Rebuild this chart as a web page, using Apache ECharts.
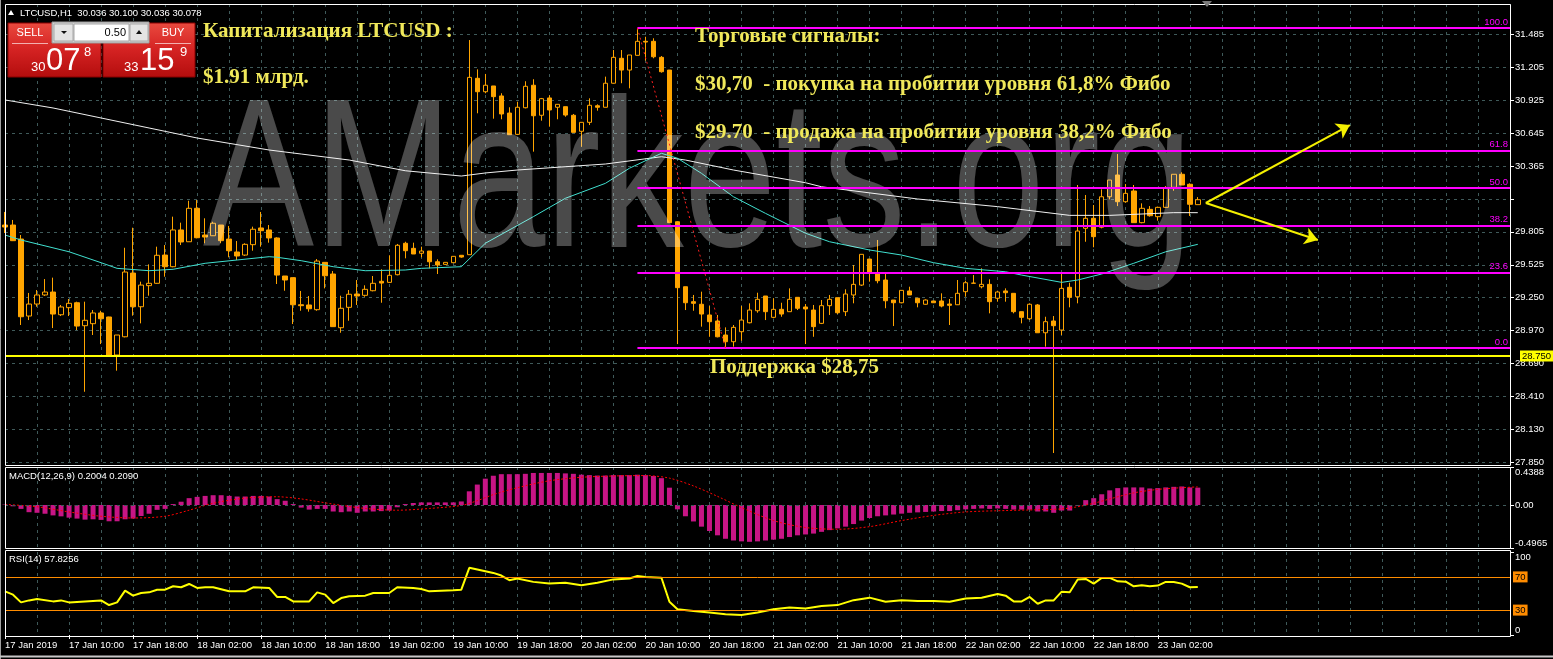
<!DOCTYPE html>
<html><head><meta charset="utf-8">
<script src="https://cdn.jsdelivr.net/npm/echarts@6/dist/echarts.min.js"></script>
<style>html,body{margin:0;padding:0;background:#000;overflow:hidden}#c{width:1553px;height:659px}</style>
</head><body><div id="c"></div>
<script>
// ---------- DATA ----------
const timeLabels = ['17 Jan 2019','17 Jan 10:00','17 Jan 18:00','18 Jan 02:00','18 Jan 10:00','18 Jan 18:00','19 Jan 02:00','19 Jan 10:00','19 Jan 18:00','20 Jan 02:00','20 Jan 10:00','20 Jan 18:00','21 Jan 02:00','21 Jan 10:00','21 Jan 18:00','22 Jan 02:00','22 Jan 10:00','22 Jan 18:00','23 Jan 02:00'];
const priceTicks = [31.485,31.205,30.925,30.645,30.365,30.085,29.805,29.525,29.250,28.970,28.690,28.410,28.130,27.850];
const macdTicks = [-0.4965,0,0.4388];
const rsiTicks = [0,100];
const rsiLevels = [70,30];

const openP = [29.863,29.863,29.744,29.090,29.192,29.269,29.294,29.101,29.161,29.203,
29.008,29.025,29.116,29.082,28.759,28.914,29.455,29.169,29.348,29.368,
29.608,29.509,29.821,29.721,30.005,29.778,29.772,29.863,29.744,29.634,
29.608,29.696,29.838,29.821,29.753,29.430,29.416,29.186,29.184,29.144,
29.546,29.447,28.991,29.164,29.277,29.266,29.305,29.385,29.376,29.441,
29.708,29.665,29.623,29.642,29.551,29.529,29.543,29.606,29.611,31.109,
30.995,31.044,30.959,30.814,30.633,30.859,31.050,30.795,30.942,30.863,
30.868,30.795,30.659,30.735,30.876,30.863,31.067,31.279,31.179,31.304,
31.423,31.423,31.287,31.179,29.891,29.339,29.212,29.190,29.099,29.048,
28.929,28.872,28.957,29.033,29.135,29.260,29.079,29.147,29.127,29.249,
29.167,29.141,29.028,29.178,29.246,29.127,29.269,29.353,29.574,29.447,
29.396,29.226,29.203,29.303,29.241,29.190,29.218,29.218,29.192,29.186,
29.297,29.368,29.339,29.359,29.241,29.303,29.283,29.127,29.067,29.184,
28.948,29.048,28.971,29.334,29.254,29.835,29.920,29.844,30.103,30.288,
30.061,30.152,29.883,29.996,29.934,30.013,30.183,30.294,30.209,30.036];
const closeP = [29.846,29.730,29.084,29.192,29.269,29.294,29.107,29.167,29.198,29.005,
29.054,29.116,29.067,28.759,28.929,29.464,29.169,29.353,29.368,29.606,
29.509,29.821,29.719,30.005,29.755,29.761,29.878,29.730,29.645,29.600,
29.699,29.827,29.815,29.753,29.438,29.396,29.186,29.178,29.152,29.557,
29.432,29.000,29.156,29.275,29.260,29.317,29.368,29.370,29.436,29.691,
29.645,29.617,29.642,29.551,29.523,29.546,29.597,29.591,31.117,30.995,
31.050,30.953,30.806,30.630,30.863,31.041,30.791,30.936,30.840,30.888,
30.797,30.650,30.735,30.880,30.863,31.067,31.287,31.179,31.307,31.423,
31.417,31.292,31.165,29.883,29.331,29.203,29.198,29.107,29.042,28.914,
28.872,28.994,29.056,29.141,29.232,29.127,29.147,29.107,29.232,29.156,
29.150,29.000,29.178,29.232,29.118,29.277,29.359,29.614,29.461,29.390,
29.220,29.203,29.308,29.269,29.203,29.226,29.203,29.175,29.181,29.283,
29.373,29.370,29.359,29.212,29.294,29.288,29.127,29.079,29.190,28.948,
29.042,29.008,29.325,29.249,29.812,29.920,29.764,30.103,30.245,30.061,
30.132,29.883,30.005,29.942,30.013,30.175,30.294,30.203,30.039,30.078];
const lowP = [29.795,29.727,29.014,29.056,29.169,29.260,28.988,29.090,29.090,28.971,
28.447,28.929,28.852,28.751,28.626,28.909,29.093,29.028,29.263,29.365,
29.424,29.504,29.693,29.721,29.750,29.708,29.770,29.708,29.589,29.566,
29.600,29.645,29.679,29.713,29.362,29.305,29.022,29.135,29.127,29.135,
29.325,29.000,28.948,29.050,29.184,29.254,29.300,29.203,29.373,29.436,
29.580,29.617,29.589,29.495,29.447,29.523,29.543,29.585,29.611,30.812,
30.982,30.766,30.761,30.630,30.627,30.854,30.486,30.749,30.698,30.761,
30.783,30.650,30.528,30.712,30.834,30.863,31.067,31.067,31.024,31.304,
31.259,31.279,31.157,29.883,28.852,29.141,29.135,29.000,28.914,28.909,
28.818,28.830,28.880,29.028,29.118,29.056,29.071,29.084,29.127,29.141,
28.852,28.914,29.022,29.099,29.107,29.090,29.198,29.345,29.382,29.368,
29.156,29.005,29.198,29.269,29.164,29.186,29.201,29.164,29.014,29.184,
29.254,29.368,29.325,29.113,29.212,29.212,29.113,29.028,29.056,28.948,
28.830,27.927,28.929,29.164,29.198,29.721,29.674,29.835,30.081,30.024,
30.053,29.883,29.878,29.934,29.900,30.010,30.154,30.203,29.940,30.036];
const highP = [29.974,29.906,29.778,29.286,29.311,29.404,29.416,29.184,29.235,29.212,
29.212,29.141,29.135,29.084,28.929,29.670,29.840,29.382,29.529,29.679,
29.693,29.934,29.883,30.069,30.075,29.920,29.891,29.863,29.855,29.727,
29.708,29.849,29.974,29.863,29.759,29.430,29.416,29.303,29.260,29.574,
29.546,29.472,29.263,29.311,29.396,29.351,29.430,29.487,29.606,29.702,
29.721,29.713,29.679,29.642,29.572,29.546,29.597,29.606,31.434,31.185,
31.146,31.044,30.982,30.863,30.910,31.084,31.101,30.942,30.965,30.888,
30.868,30.806,30.735,30.939,30.888,31.123,31.349,31.349,31.307,31.536,
31.462,31.449,31.298,31.179,29.891,29.339,29.269,29.297,29.175,29.099,
28.994,29.014,29.175,29.198,29.288,29.260,29.241,29.203,29.325,29.249,
29.192,29.184,29.226,29.269,29.246,29.317,29.523,29.614,29.574,29.736,
29.447,29.226,29.308,29.339,29.241,29.232,29.218,29.283,29.235,29.396,
29.390,29.438,29.495,29.402,29.305,29.325,29.283,29.127,29.198,29.192,
29.084,29.090,29.453,29.373,30.203,30.118,30.033,30.166,30.245,30.466,
30.211,30.203,30.047,30.024,30.019,30.194,30.294,30.311,30.217,30.100];

// moving averages read at bar indices [bar, price]
const maSlow = [[0,30.925],[6,30.857],[12,30.772],[18,30.687],[24,30.602],[33,30.500],[37,30.466],[43,30.415],[50,30.324],[57,30.279],[60,30.305],[64,30.330],[70,30.358],[75,30.381],[82,30.443],[85,30.415],[91,30.330],[100,30.222],[102,30.188],[114,30.084],[124,30.019],[133,29.945],[138,29.945],[146,29.968],[149,29.968]];
const maFast = [[0,29.778],[2,29.736],[8,29.636],[12,29.543],[14,29.495],[18,29.475],[21,29.487],[25,29.538],[29,29.566],[33,29.594],[34,29.589],[37,29.560],[41,29.509],[45,29.475],[50,29.481],[52,29.495],[57,29.509],[60,29.708],[66,29.934],[70,30.090],[75,30.217],[78,30.345],[82,30.472],[84,30.430],[87,30.302],[91,30.103],[95,29.962],[100,29.793],[103,29.721],[108,29.651],[112,29.608],[116,29.543],[120,29.495],[125,29.466],[127,29.438],[132,29.376],[134,29.396],[137,29.447],[141,29.538],[145,29.636],[149,29.699]];

const macdHist = [0.005,-0.015,-0.045,-0.083,-0.09,-0.101,-0.12,-0.131,-0.146,-0.157,
-0.169,-0.165,-0.172,-0.188,-0.188,-0.165,-0.157,-0.127,-0.101,-0.056,
-0.045,0.011,0.038,0.079,0.094,0.105,0.113,0.113,0.105,0.098,
0.098,0.105,0.105,0.098,0.068,0.049,0.011,-0.03,-0.053,-0.045,
-0.045,-0.075,-0.083,-0.075,-0.09,-0.075,-0.075,-0.071,-0.064,-0.026,
0.011,0.023,0.03,0.03,0.03,0.03,0.03,0.041,0.158,0.236,
0.304,0.338,0.356,0.356,0.356,0.36,0.37,0.37,0.37,0.37,
0.365,0.36,0.35,0.345,0.34,0.34,0.345,0.345,0.345,0.35,
0.345,0.335,0.31,0.2,-0.05,-0.13,-0.19,-0.25,-0.3,-0.35,
-0.39,-0.41,-0.42,-0.425,-0.42,-0.41,-0.4,-0.39,-0.37,-0.35,
-0.34,-0.33,-0.31,-0.29,-0.27,-0.25,-0.22,-0.18,-0.15,-0.13,
-0.12,-0.11,-0.1,-0.09,-0.085,-0.08,-0.075,-0.07,-0.07,-0.06,
-0.05,-0.045,-0.04,-0.045,-0.04,-0.045,-0.053,-0.053,-0.053,-0.075,
-0.075,-0.09,-0.064,-0.064,-0.008,0.056,0.079,0.124,0.169,0.195,
0.203,0.203,0.203,0.191,0.195,0.203,0.21,0.214,0.203,0.2004];
const macdSignal = [[0,0.007],[4,-0.02],[8,-0.08],[12,-0.13],[16,-0.15],[20,-0.13],[23,-0.06],[26,0.02],[30,0.08],[34,0.095],[37,0.07],[41,0.01],[45,-0.04],[49,-0.06],[53,-0.04],[57,-0.005],[59,0.05],[61,0.12],[64,0.2],[68,0.28],[72,0.32],[76,0.335],[80,0.34],[83,0.31],[86,0.22],[89,0.1],[92,-0.03],[96,-0.18],[100,-0.26],[104,-0.28],[108,-0.25],[112,-0.18],[116,-0.12],[120,-0.08],[125,-0.064],[129,-0.055],[132,-0.045],[134,-0.02],[136,0.02],[138,0.07],[141,0.14],[144,0.18],[147,0.2],[149,0.209]];
const rsiLine = [[0,52.6],[1,48.6],[2,39.3],[3,41.7],[4,43.3],[6,40.5],[7,41.7],[8,39.3],[10,40.5],[12,41.7],[13,36.1],[14,39.3],[15,53.4],[16,47.4],[17,50.6],[18,51.4],[19,54.6],[20,54.6],[21,58.7],[22,57.5],[23,61.5],[24,56.7],[25,57.5],[26,57.5],[28,52.6],[30,52.6],[31,57.5],[33,56.7],[34,45.8],[35,45.8],[36,40.5],[38,40.5],[39,51.4],[40,48.6],[41,38.5],[42,44.5],[43,46.6],[45,47.4],[46,50.6],[48,50.6],[49,57.5],[51,56.7],[52,55.5],[53,52.6],[56,53.8],[57,54.6],[58,80.9],[59,78.9],[60,76.9],[61,74.8],[62,71.6],[63,66],[64,68],[66,64],[68,62],[70,63],[72,60],[74,63],[76,67],[78,68],[79,71],[80,70],[82,69],[83,40],[84,31],[86,29],[88,27],[90,25],[92,24],[94,27],[96,31],[98,33],[100,32],[102,35],[104,36],[106,42],[108,45],[110,40],[112,42],[114,41],[116,41],[118,40],[120,44],[122,45],[124,49.4],[125,47.4],[126,40.5],[127,40.5],[128,45.8],[129,37.7],[130,41.7],[131,41.7],[132,52.2],[133,51.4],[134,66.8],[135,67.6],[136,61.9],[137,68.8],[138,68.8],[139,64.7],[140,64.3],[141,58.7],[142,59.9],[143,58.7],[144,59.5],[145,63.9],[146,63.9],[147,61.9],[148,57.5],[149,57.8]];

const fibLevels = [100, 61.8, 50, 38.2, 23.6, 0];
const fibHigh = 31.536, fibLow = 28.818, fibStartBar = 79, fibEndBar = 90;
const supportLevel = 28.75, lastPrice = 30.078;
const arrowFrom = [150, 30.05], arrowUp = [168, 30.712], arrowDown = [164, 29.736];

// ---------- CHART ----------
const SLOTS = 189;
const cats = Array.from({length: SLOTS}, (_, i) => String(i));
const candles = openP.map((o, i) => [o, closeP[i], lowP[i], highP[i]]);
const GRIDC = '#3f5a5a';
const FONT = 'Liberation Sans';
const YEL = '#F0E85A';
const ANN = 'bold 21px "Liberation Serif"';

const fibMarks = fibLevels.map(l => {
  const p = fibLow + (fibHigh - fibLow) * l / 100;
  return [{coord: [fibStartBar, p], name: l.toFixed(1)}, {coord: [SLOTS - 1, p]}];
});

function xAxisFor(gi, labels) {
  return {
    type: 'category', gridIndex: gi, data: cats, boundaryGap: false,
    axisLine: {show: false},
    axisTick: {show: labels, length: 4, interval: (i) => i % 8 === 0 && i / 8 < timeLabels.length, lineStyle: {color: '#fff'}},
    axisLabel: {show: labels, interval: (i) => i % 8 === 0 && i / 8 < timeLabels.length,
      formatter: (v, i) => timeLabels[Number(v) / 8] || '', align: 'left', color: '#fff',
      fontFamily: FONT, fontSize: 9.5, margin: 5},
    splitLine: {show: true, interval: (i) => i % 4 === 0 && i > 0, lineStyle: {color: GRIDC, type: [3, 4], width: 1}}
  };
}

const txt = (text, x, y, font, fill, extra) => Object.assign({type: 'text', x: x, y: y, z: 20, silent: true,
  style: {text: text, font: font, fill: fill, align: 'left', verticalAlign: 'middle'}}, extra || {});

const redGrad = {type: 'linear', x: 0, y: 0, x2: 0, y2: 1, colorStops: [{offset: 0, color: '#ea4a3f'}, {offset: 0.5, color: '#d42222'}, {offset: 1, color: '#b30d0d'}]};

const graphics = [
  {type: 'rect', z: 30, silent: true, shape: {x: 5.5, y: 4.5, width: 1505, height: 461}, style: {fill: null, stroke: '#ffffff', lineWidth: 1}},
  {type: 'rect', z: 30, silent: true, shape: {x: 5.5, y: 467.5, width: 1505, height: 81}, style: {fill: null, stroke: '#ffffff', lineWidth: 1}},
  {type: 'rect', z: 30, silent: true, shape: {x: 5.5, y: 550.5, width: 1505, height: 86}, style: {fill: null, stroke: '#ffffff', lineWidth: 1}},
  {type: 'line', z: 30, silent: true, shape: {x1: 0.5, y1: 0, x2: 0.5, y2: 659}, style: {stroke: '#a0a0a0', lineWidth: 1}},
  {type: 'line', z: 30, silent: true, shape: {x1: 0, y1: 656.5, x2: 1553, y2: 656.5}, style: {stroke: '#c8c8c8', lineWidth: 2}},
  {type: 'polygon', z: 30, silent: true, shape: {points: [[1202, 1], [1212, 1], [1207, 7]]}, style: {fill: '#7a7a7a'}},
  {type: 'text', z: 5, silent: true, x: 203, y: 188, scaleX: 0.785, style: {text: 'AMarkets.org', font: '212px "Liberation Sans"', fill: 'rgba(255,255,255,0.29)', align: 'left', verticalAlign: 'middle'}},
  {type: 'polygon', z: 20, silent: true, shape: {points: [[8, 15], [14, 15], [11, 10]]}, style: {fill: '#fff'}},
  txt('LTCUSD,H1  30.036 30.100 30.036 30.078', 20, 13, '9.5px "Liberation Sans"', '#fff'),
  {type: 'rect', z: 20, silent: true, shape: {x: 8, y: 23, width: 93, height: 54}, style: {fill: redGrad, stroke: '#8a0000', lineWidth: 1}},
  {type: 'rect', z: 20, silent: true, shape: {x: 103, y: 23, width: 92, height: 54}, style: {fill: redGrad, stroke: '#8a0000', lineWidth: 1}},
  {type: 'rect', z: 21, silent: true, shape: {x: 52, y: 22, width: 97, height: 21}, style: {fill: '#cfcfcf', stroke: '#9a9a9a', lineWidth: 1}},
  {type: 'rect', z: 22, silent: true, shape: {x: 54, y: 24, width: 19, height: 17}, style: {fill: '#e4e4e4', stroke: '#a8a8a8'}},
  {type: 'rect', z: 22, silent: true, shape: {x: 74, y: 24, width: 55, height: 17}, style: {fill: '#ffffff', stroke: '#a8a8a8'}},
  {type: 'rect', z: 22, silent: true, shape: {x: 130, y: 24, width: 18, height: 17}, style: {fill: '#e4e4e4', stroke: '#a8a8a8'}},
  {type: 'polygon', z: 23, silent: true, shape: {points: [[61, 31], [67, 31], [64, 34]]}, style: {fill: '#111'}},
  {type: 'polygon', z: 23, silent: true, shape: {points: [[136, 34], [142, 34], [139, 30]]}, style: {fill: '#111'}},
  txt('0.50', 126, 33, '', '', {z: 23, style: {text: '0.50', font: '11px "Liberation Sans"', fill: '#000', align: 'right', verticalAlign: 'middle'}}),
  {type: 'line', z: 22, silent: true, shape: {x1: 12, y1: 43.5, x2: 48, y2: 43.5}, style: {stroke: '#f3b0b0', lineWidth: 1}},
  {type: 'line', z: 22, silent: true, shape: {x1: 155, y1: 43.5, x2: 191, y2: 43.5}, style: {stroke: '#f3b0b0', lineWidth: 1}},
  txt('SELL', 30, 33, '', '', {z: 23, style: {text: 'SELL', font: '11px "Liberation Sans"', fill: '#fff', align: 'center', verticalAlign: 'middle'}}),
  txt('BUY', 173, 33, '', '', {z: 23, style: {text: 'BUY', font: '11px "Liberation Sans"', fill: '#fff', align: 'center', verticalAlign: 'middle'}}),
  txt('30', 31, 67, '13px "Liberation Sans"', '#fff', {z: 23}),
  txt('07', 46, 61, '31px "Liberation Sans"', '#fff', {z: 23}),
  txt('8', 84, 52, '13px "Liberation Sans"', '#fff', {z: 23}),
  txt('33', 124, 67, '13px "Liberation Sans"', '#fff', {z: 23}),
  txt('15', 140, 61, '31px "Liberation Sans"', '#fff', {z: 23}),
  txt('9', 180, 52, '13px "Liberation Sans"', '#fff', {z: 23}),
  txt('Капитализация LTCUSD :', 203, 32, ANN, YEL),
  txt('$1.91 млрд.', 203, 78, ANN, YEL),
  txt('Торговые сигналы:', 695, 37, ANN, YEL),
  txt('$30,70  - покупка на пробитии уровня 61,8% Фибо', 695, 85, ANN, YEL),
  txt('$29.70  - продажа на пробитии уровня 38,2% Фибо', 695, 133, ANN, YEL),
  txt('Поддержка $28,75', 710, 368, ANN, YEL),
  txt('MACD(12,26,9) 0.2004 0.2090', 9, 476, '9.5px "Liberation Sans"', '#fff'),
  txt('RSI(14) 57.8256', 9, 559, '9.5px "Liberation Sans"', '#fff')
];

const option = {
  backgroundColor: '#000000',
  animation: false,
  grid: [
    {left: 5, top: 4, width: 1505, height: 461},
    {left: 5, top: 467, width: 1505, height: 81},
    {left: 5, top: 552, width: 1505, height: 83}
  ],
  xAxis: [xAxisFor(0, false), xAxisFor(1, false), xAxisFor(2, true)],
  yAxis: [
    {type: 'value', gridIndex: 0, position: 'right', min: 27.825, max: 31.740,
      axisLine: {show: false},
      axisTick: {show: true, length: 4, customValues: priceTicks, lineStyle: {color: '#fff'}},
      axisLabel: {customValues: priceTicks, color: '#fff', fontFamily: FONT, fontSize: 9.5, margin: 5,
        formatter: (v) => Math.abs(v - 30.085) < 1e-6 ? '' : v.toFixed(3)},
      splitLine: {show: true, lineStyle: {color: GRIDC, type: [3, 4], width: 1}}},
    {type: 'value', gridIndex: 1, position: 'right', min: -0.4965, max: 0.4388,
      axisLine: {show: false},
      axisTick: {show: true, length: 4, customValues: macdTicks, lineStyle: {color: '#fff'}},
      axisLabel: {customValues: macdTicks, color: '#fff', fontFamily: FONT, fontSize: 9.5, margin: 5,
        verticalAlignMaxLabel: 'top', verticalAlignMinLabel: 'bottom',
        formatter: (v) => v === 0 ? '0.00' : String(v)},
      splitLine: {show: false}},
    {type: 'value', gridIndex: 2, position: 'right', min: 0, max: 100,
      axisLine: {show: false},
      axisTick: {show: true, length: 4, customValues: rsiTicks, lineStyle: {color: '#fff'}},
      axisLabel: {customValues: rsiTicks, color: '#fff', fontFamily: FONT, fontSize: 9.5, margin: 5,
        verticalAlignMaxLabel: 'top', verticalAlignMinLabel: 'bottom'},
      splitLine: {show: false}}
  ],
  series: [
    {type: 'candlestick', xAxisIndex: 0, yAxisIndex: 0, data: candles, barWidth: 5, clip: true, z: 2,
      itemStyle: {color: '#000000', color0: '#FFA500', borderColor: '#FFA500', borderColor0: '#FFA500', borderWidth: 1},
      markLine: {silent: true, symbol: ['none', 'none'], animation: false,
        data: [
          ...fibMarks.map(m => [Object.assign({}, m[0], {lineStyle: {color: '#FF00FF', width: 2, type: 'solid'},
            label: {show: true, position: 'insideEndTop', formatter: m[0].name, color: '#FF00FF', fontFamily: FONT, fontSize: 9.5, distance: [2, 1]}}), m[1]]),
          [{coord: [fibStartBar, fibHigh], lineStyle: {color: '#FF2020', width: 1, type: [2, 3]}, label: {show: false}}, {coord: [fibEndBar, fibLow]}],
          {yAxis: supportLevel, lineStyle: {color: '#FFFF00', width: 2, type: 'solid'},
            label: {show: true, position: 'end', formatter: '28.750', color: '#000', backgroundColor: '#FFFF00', padding: [1, 2, 0, 2], fontFamily: FONT, fontSize: 9.5, distance: 10}},
          {yAxis: lastPrice, lineStyle: {opacity: 0},
            label: {show: true, position: 'end', formatter: '30.078', color: '#000', backgroundColor: '#FFFFFF', padding: [1, 2, 0, 2], fontFamily: FONT, fontSize: 9.5, distance: 10}}
        ]}},
    {type: 'line', name: 'MA slow', xAxisIndex: 0, yAxisIndex: 0, data: maSlow, showSymbol: false, z: 3,
      lineStyle: {color: '#F0F0F0', width: 1}, itemStyle: {color: '#F0F0F0'},
      markLine: {silent: true, symbol: ['none', 'arrow'], symbolSize: 13, animation: false,
        lineStyle: {color: '#F4F000', width: 2, type: 'solid'}, label: {show: false},
        data: [[{coord: arrowFrom}, {coord: arrowUp}], [{coord: arrowFrom}, {coord: arrowDown}]]}},
    {type: 'line', name: 'MA fast', xAxisIndex: 0, yAxisIndex: 0, data: maFast, showSymbol: false, z: 3,
      lineStyle: {color: '#40E0D0', width: 1}, itemStyle: {color: '#40E0D0'}},
    {type: 'bar', xAxisIndex: 1, yAxisIndex: 1, data: macdHist, barWidth: 5, itemStyle: {color: '#C71585'},
      markLine: {silent: true, symbol: ['none', 'none'], label: {show: false}, animation: false,
        lineStyle: {color: GRIDC, type: [3, 4], width: 1}, data: [{yAxis: 0}]}},
    {type: 'line', xAxisIndex: 1, yAxisIndex: 1, data: macdSignal, showSymbol: false, smooth: 0.3, z: 4,
      lineStyle: {color: '#FF0000', width: 1, type: [2, 2]}},
    {type: 'line', xAxisIndex: 2, yAxisIndex: 2, data: rsiLine, showSymbol: false, z: 4,
      lineStyle: {color: '#FFFF00', width: 2}, itemStyle: {color: '#FFFF00'},
      markLine: {silent: true, symbol: ['none', 'none'], animation: false,
        lineStyle: {color: '#FF8C00', width: 1, type: 'solid'},
        data: rsiLevels.map(l => ({yAxis: l, label: {show: true, position: 'end', formatter: String(l), color: '#000', backgroundColor: '#FF8C00', padding: [1, 2, 0, 2], fontFamily: FONT, fontSize: 9.5, distance: 3}}))}}
  ],
  graphic: graphics
};

const chart = echarts.init(document.getElementById('c'), null, {renderer: 'canvas'});
chart.setOption(option);
</script>
</body></html>
